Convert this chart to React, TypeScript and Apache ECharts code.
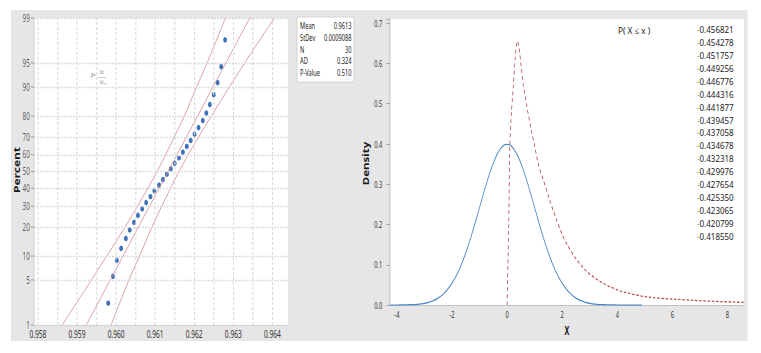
import React, { useEffect, useRef } from 'react';
import * as echarts from 'echarts';

// ---------- picture geometry (the source picture is horizontally compressed) ----------
const S = 0.6;
const OX = 11;
const OY = 10;
const PANEL_W = 737;
const PANEL_H = 331;
const cx = (sx: number) => (sx - OX) / S;
const cy = (sy: number) => sy - OY;

// ---------- left panel: normal probability plot ----------
const PCT_TICKS = [1, 5, 10, 20, 30, 40, 50, 60, 70, 80, 90, 95, 99];
const V_GRID = [0.958, 0.9585, 0.959, 0.9595, 0.96, 0.9605, 0.961, 0.9615, 0.962, 0.9625, 0.963, 0.9635, 0.964];
const X_MIN_L = 0.9579;
const X_MAX_L = 0.9644;
const SAMPLE_X = [0.9598, 0.95992, 0.96002, 0.96013, 0.96025, 0.96035, 0.96046, 0.96056, 0.96067, 0.96077, 0.96088, 0.96098, 0.9611, 0.9612, 0.9613, 0.9614, 0.9615, 0.96161, 0.96171, 0.96181, 0.96191, 0.96201, 0.96211, 0.96222, 0.96231, 0.9624, 0.9625, 0.9626, 0.96269, 0.96279];
const SAMPLE_PCT = [2.3, 5.6, 8.9, 12.2, 15.5, 18.8, 22.0, 25.3, 28.6, 31.9, 35.2, 38.5, 41.8, 45.1, 48.4, 51.6, 54.9, 58.2, 61.5, 64.8, 68.1, 71.4, 74.7, 78.0, 81.2, 84.5, 87.8, 91.1, 94.4, 97.7];
const BAND_PCT = [1, 5, 10, 20, 30, 50, 70, 80, 90, 95, 99];
const FIT_X = [0.95924, 0.95985, 0.96018, 0.96057, 0.96086, 0.96133, 0.9618, 0.96209, 0.96248, 0.96281, 0.96342];
const LOWER_X = [0.95862, 0.95937, 0.95976, 0.96023, 0.96055, 0.96105, 0.96149, 0.96175, 0.96206, 0.96233, 0.9628];
const UPPER_X = [0.95987, 0.96033, 0.9606, 0.96092, 0.96117, 0.96161, 0.96211, 0.96244, 0.9629, 0.96329, 0.96405];
const STATS_LABELS = ['Mean', 'StDev', 'N', 'AD', 'P-Value'];
const STATS_VALUES = ['0.9613', '0.0009088', '30', '0.324', '0.510'];

// ---------- right panel: densities ----------
const NORM_X = [-4.25, -4, -3.75, -3.5, -3.25, -3, -2.75, -2.5, -2.25, -2, -1.75, -1.5, -1.25, -1, -0.75, -0.5, -0.25, 0, 0.25, 0.5, 0.75, 1, 1.25, 1.5, 1.75, 2, 2.25, 2.5, 2.75, 3, 3.25, 3.5, 3.75, 4, 4.25, 4.5, 4.9];
const NORM_D = [0.0, 0.0001, 0.0004, 0.0009, 0.002, 0.0044, 0.0091, 0.0175, 0.0317, 0.054, 0.0863, 0.1295, 0.1826, 0.242, 0.3011, 0.3521, 0.3867, 0.3989, 0.3867, 0.3521, 0.3011, 0.242, 0.1826, 0.1295, 0.0863, 0.054, 0.0317, 0.0175, 0.0091, 0.0044, 0.002, 0.0009, 0.0004, 0.0001, 0.0, 0.0, 0.0];
const RED_X = [0, 0.03, 0.06, 0.1, 0.16, 0.23, 0.29, 0.34, 0.375, 0.42, 0.5, 0.59, 0.7, 0.84, 1.0, 1.15, 1.32, 1.5, 1.7, 2.0, 2.2, 2.5, 2.9, 3.3, 3.75, 4.25, 5.1, 6.0, 7.0, 8.0, 8.6];
const RED_D = [0, 0.1, 0.2, 0.4, 0.48, 0.546, 0.61, 0.645, 0.655, 0.645, 0.6, 0.546, 0.5, 0.448, 0.395, 0.345, 0.31, 0.27, 0.23, 0.175, 0.148, 0.115, 0.083, 0.062, 0.045, 0.032, 0.02, 0.015, 0.011, 0.008, 0.0065];
const P_LIST = ['0.456821', '0.454278', '0.451757', '0.449256', '0.446776', '0.444316', '0.441877', '0.439457', '0.437058', '0.434678', '0.432318', '0.429976', '0.427654', '0.425350', '0.423065', '0.420799', '0.418550'];

const FONT = 'Noto Sans';

// inverse standard normal CDF (probability axis transform)
function invNorm(p: number): number {
  const a = [-3.969683028665376e1, 2.209460984245205e2, -2.759285104469687e2, 1.38357751867269e2, -3.066479806614716e1, 2.506628277459239];
  const b = [-5.447609879822406e1, 1.615858368580409e2, -1.556989798598866e2, 6.680131188771972e1, -1.328068155288572e1];
  const c = [-7.784894002430293e-3, -3.223964580411365e-1, -2.400758277161838, -2.54967134828343, 4.374664141464968, 2.938163982698783];
  const d = [7.784695709041462e-3, 3.224671290700398e-1, 2.445134137142996, 3.754408661907416];
  const pl = 0.02425;
  let q: number, r: number;
  if (p < pl) {
    q = Math.sqrt(-2 * Math.log(p));
    return (((((c[0] * q + c[1]) * q + c[2]) * q + c[3]) * q + c[4]) * q + c[5]) / ((((d[0] * q + d[1]) * q + d[2]) * q + d[3]) * q + 1);
  }
  if (p <= 1 - pl) {
    q = p - 0.5;
    r = q * q;
    return ((((((a[0] * r + a[1]) * r + a[2]) * r + a[3]) * r + a[4]) * r + a[5]) * q) / (((((b[0] * r + b[1]) * r + b[2]) * r + b[3]) * r + b[4]) * r + 1);
  }
  q = Math.sqrt(-2 * Math.log(1 - p));
  return -(((((c[0] * q + c[1]) * q + c[2]) * q + c[3]) * q + c[4]) * q + c[5]) / ((((d[0] * q + d[1]) * q + d[2]) * q + d[3]) * q + 1);
}
const z = (pct: number) => invNorm(pct / 100);

function txt(text: string, x: number, y: number, size: number, align: string, extra: any = {}, styleExtra: any = {}) {
  return {
    type: 'text', x, y, ...extra,
    style: { text, fontSize: size, fontFamily: FONT, fill: '#222', align, verticalAlign: 'middle', textAlign: align, textVerticalAlign: 'middle', ...styleExtra },
  };
}

function buildOption(): any {
  const zMin = z(PCT_TICKS[0]);
  const zMax = z(PCT_TICKS[PCT_TICKS.length - 1]);
  const bandColor = '#d68c8c';
  const gridLine = { type: [3, 2], color: '#dadada', width: 1.3 };

  const graphics: any[] = [];
  // stats box
  graphics.push({
    type: 'rect',
    shape: { x: cx(297), y: cy(17), width: cx(354) - cx(297), height: 65 },
    style: { fill: '#ffffff', stroke: '#cccccc', lineWidth: 1 },
  });
  STATS_LABELS.forEach((l, i) => {
    const y = cy(25.7) + i * 11.7;
    graphics.push(txt(l, cx(300), y, 9.5, 'left'));
    graphics.push(txt(STATS_VALUES[i], cx(351.5), y, 9.5, 'right'));
  });
  // formula note
  const grey = { fill: '#777' };
  graphics.push(txt('β=', cx(91), cy(74.5), 6, 'left', {}, grey));
  graphics.push(txt('Sd', cx(101.5), cy(72.3), 5, 'center', {}, grey));
  graphics.push({ type: 'line', shape: { x1: cx(98.3), y1: cy(77.5), x2: cx(106), y2: cy(77.5) }, style: { stroke: '#999', lineWidth: 0.6 } });
  graphics.push(txt('Sd', cx(101.5), cy(81.8), 5, 'center', {}, grey));
  graphics.push(txt('m', cx(104.3), cy(83.5), 3.5, 'left', {}, grey));
  // axis titles
  graphics.push(txt('Percent', cx(17.2), cy(170), 12, 'center', { rotation: Math.PI / 2, scaleY: 1.15 }, { fontWeight: 'bold', fill: '#1a1a1a' }));
  graphics.push(txt('Density', cx(365.5), cy(163.5), 11.5, 'center', { rotation: Math.PI / 2, scaleY: 1.3 }, { fontWeight: 'bold', fill: '#1a1a1a' }));
  // P(X <= x) list
  graphics.push(txt('P( X ≤ x )', cx(618), cy(30), 9.5, 'left', { scaleX: 1.45 }));
  P_LIST.forEach((v, i) => {
    graphics.push({
      type: 'text', x: cx(697), y: cy(30 + i * 12.9), scaleX: 1.4,
      style: {
        text: '{m|-}{n|' + v + '}',
        rich: {
          m: { fontSize: 9.5, fontFamily: FONT, fill: '#9a9a9a' },
          n: { fontSize: 9.5, fontFamily: FONT, fill: '#222' },
        },
        fontSize: 9.5, fontFamily: FONT,
        align: 'left', verticalAlign: 'middle', textAlign: 'left', textVerticalAlign: 'middle',
      },
    });
  });

  return {
    animation: false,
    backgroundColor: '#e6e6e6',
    textStyle: { fontFamily: FONT },
    grid: [
      { left: cx(34), top: cy(18), width: cx(288) - cx(34), height: 307, show: true, backgroundColor: '#ffffff', borderWidth: 0, containLabel: false },
      { left: cx(390), top: cy(19), width: cx(744) - cx(390), height: 292, show: true, backgroundColor: '#ffffff', borderWidth: 0, containLabel: false },
    ],
    xAxis: [
      {
        gridIndex: 0, type: 'value', min: X_MIN_L, max: X_MAX_L, interval: 0.0001,
        axisLine: { show: true, onZero: false, lineStyle: { color: '#c8c8c8' } },
        axisTick: { show: false }, splitLine: { show: false },
        axisPointer: { show: false },
        axisLabel: {
          fontSize: 11, color: '#333', margin: 3, fontFamily: FONT,
          formatter: (v: number) => (Math.abs(v * 1000 - Math.round(v * 1000)) < 1e-6 ? v.toFixed(3) : ''),
        },
      },
      {
        gridIndex: 1, type: 'value', min: -4.25, max: 8.6, interval: 0.25,
        axisLine: { show: true, onZero: false, lineStyle: { color: '#b8b8b8' } },
        axisTick: { show: false }, splitLine: { show: false },
        axisPointer: { show: false },
        axisLabel: {
          fontSize: 9.5, color: '#333', margin: 4, fontFamily: FONT,
          formatter: (v: number) => (Math.abs(v / 2 - Math.round(v / 2)) < 1e-6 ? String(Math.round(v)) : ''),
        },
        name: 'X', nameLocation: 'middle', nameGap: 18,
        nameTextStyle: { fontSize: 12, fontWeight: 'bold', color: '#1a1a1a', fontFamily: FONT },
      },
    ],
    yAxis: [
      {
        gridIndex: 0, type: 'value', min: zMin, max: zMax,
        axisLine: { show: true, onZero: false, lineStyle: { color: '#c8c8c8' } },
        axisTick: { show: false }, splitLine: { show: false }, axisLabel: { show: false },
        axisPointer: { show: false },
      },
      {
        gridIndex: 1, type: 'value', min: 0, max: 0.71, interval: 0.1,
        axisLine: { show: true, onZero: false, lineStyle: { color: '#b8b8b8' } },
        axisTick: { show: true, length: 6, lineStyle: { color: '#999' } },
        splitLine: { show: false },
        axisPointer: { show: false },
        axisLabel: {
          fontSize: 9.5, color: '#333', margin: 13, fontFamily: FONT,
          formatter: (v: number) => (Math.abs(v * 10 - Math.round(v * 10)) < 1e-6 ? v.toFixed(1) : ''),
        },
      },
    ],
    graphic: { elements: graphics },
    series: [
      {
        name: 'gridH', type: 'line', xAxisIndex: 0, yAxisIndex: 0, silent: true, symbol: 'none',
        data: [],
        markLine: {
          silent: true, symbol: ['none', 'none'], label: { show: false }, lineStyle: gridLine,
          emphasis: { disabled: true },
          data: PCT_TICKS.map((p) => [{ coord: [X_MIN_L, z(p)] }, { coord: [X_MAX_L, z(p)] }]),
        },
      },
      {
        name: 'gridV', type: 'line', xAxisIndex: 0, yAxisIndex: 0, silent: true, symbol: 'none',
        data: [],
        markLine: {
          silent: true, symbol: ['none', 'none'], label: { show: false }, lineStyle: { ...gridLine, width: 1.8 },
          emphasis: { disabled: true },
          data: V_GRID.map((v) => [{ coord: [v, zMin] }, { coord: [v, zMax] }]),
        },
      },
      {
        name: 'pctTicks', type: 'scatter', xAxisIndex: 0, yAxisIndex: 0, clip: false, silent: true,
        symbol: 'rect', symbolSize: [5, 1], symbolOffset: [-2.5, 0],
        itemStyle: { color: '#888' },
        data: PCT_TICKS.map((p) => [X_MIN_L, z(p), p]),
        label: {
          show: true, position: 'left', distance: 2, fontSize: 10.5, color: '#333', fontFamily: FONT,
          formatter: (pr: any) => String(pr.value[2]),
        },
      },
      {
        name: 'lower', type: 'line', xAxisIndex: 0, yAxisIndex: 0, smooth: 0.3, symbol: 'none', silent: true,
        lineStyle: { color: bandColor, width: 1 },
        data: BAND_PCT.map((p, i) => [LOWER_X[i], z(p)]),
      },
      {
        name: 'fit', type: 'line', xAxisIndex: 0, yAxisIndex: 0, smooth: 0.3, symbol: 'none', silent: true,
        lineStyle: { color: bandColor, width: 1 },
        data: BAND_PCT.map((p, i) => [FIT_X[i], z(p)]),
      },
      {
        name: 'upper', type: 'line', xAxisIndex: 0, yAxisIndex: 0, smooth: 0.3, symbol: 'none', silent: true,
        lineStyle: { color: bandColor, width: 1 },
        data: BAND_PCT.map((p, i) => [UPPER_X[i], z(p)]),
      },
      {
        name: 'samples', type: 'scatter', xAxisIndex: 0, yAxisIndex: 0, silent: true,
        symbol: 'circle', symbolSize: [6.5, 5.5],
        itemStyle: { color: '#0f4fa8' },
        data: SAMPLE_X.map((x, i) => [x, z(SAMPLE_PCT[i])]),
      },
      {
        name: 'normal', type: 'line', xAxisIndex: 1, yAxisIndex: 1, smooth: true, symbol: 'none', silent: true,
        lineStyle: { color: '#4a86c8', width: 1.3 },
        data: NORM_X.map((x, i) => [x, NORM_D[i]]),
      },
      {
        name: 'other', type: 'line', xAxisIndex: 1, yAxisIndex: 1, smooth: 0.25, symbol: 'none', silent: true,
        lineStyle: { color: '#b94b4b', width: 1.3, type: [4, 3] },
        data: RED_X.map((x, i) => [x, RED_D[i]]),
      },
    ],
  };
}

export default function App() {
  const ref = useRef<HTMLDivElement>(null);
  useEffect(() => {
    const chart = echarts.init(ref.current as HTMLDivElement, undefined, { renderer: 'svg' });
    chart.setOption(buildOption());
    return () => chart.dispose();
  }, []);
  return (
    <div style={{ position: 'absolute', left: 0, top: 0, width: 761, height: 353, background: '#ffffff', overflow: 'hidden' }}>
      <div
        ref={ref}
        style={{
          position: 'absolute', left: OX, top: OY,
          width: Math.round(PANEL_W / S), height: PANEL_H,
          transform: `scaleX(${S})`, transformOrigin: '0 0',
        }}
      />
    </div>
  );
}
